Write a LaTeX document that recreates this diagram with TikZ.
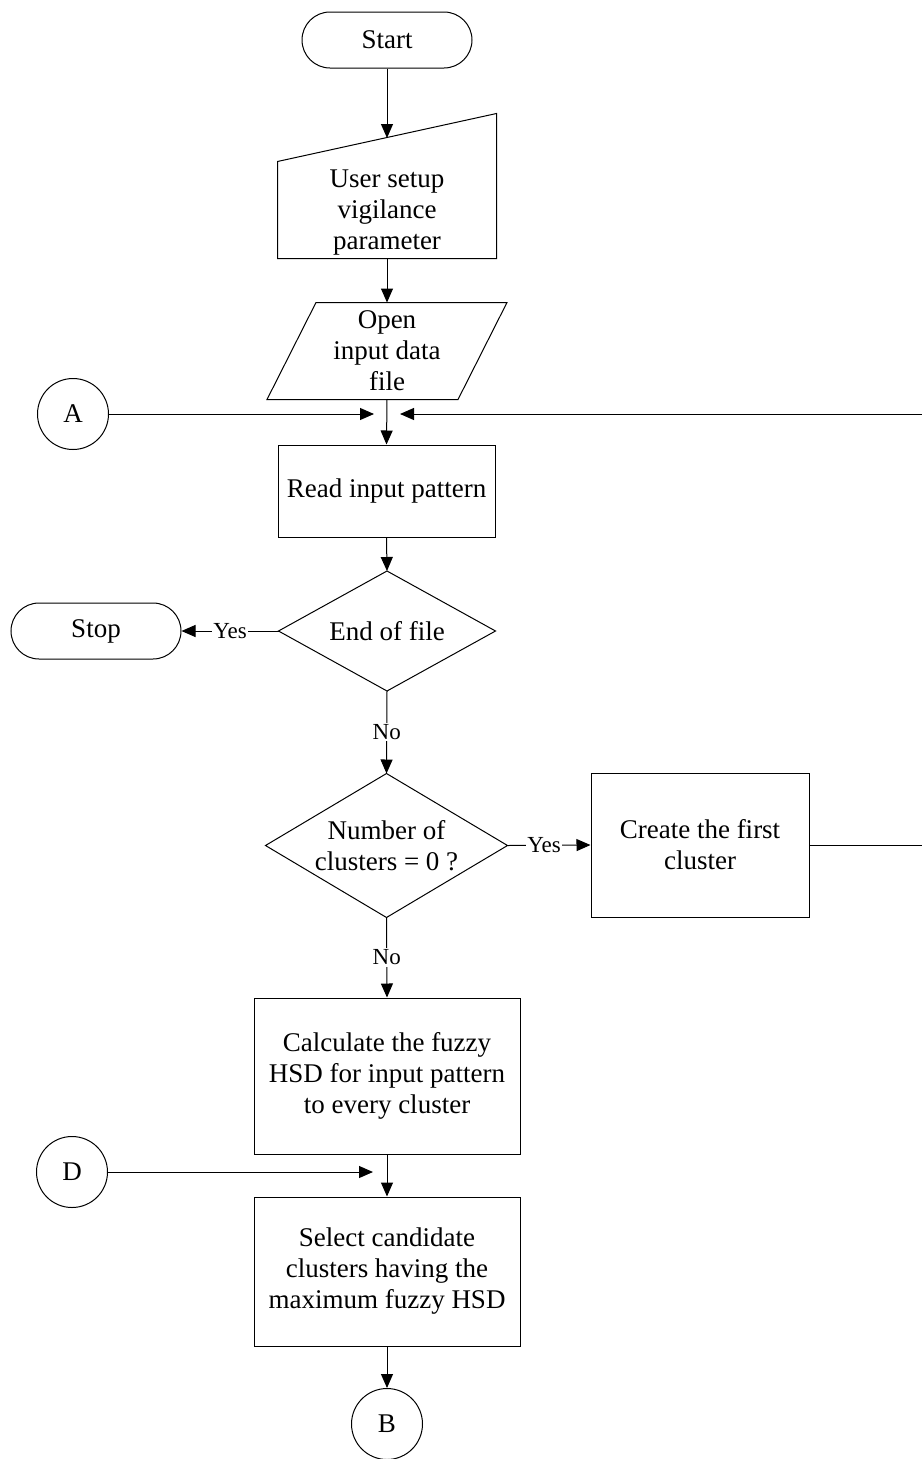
\documentclass[tikz,border=0pt]{standalone}
\usepackage{fontspec}
\setmainfont{Liberation Serif}
\usetikzlibrary{arrows.meta,calc}
\begin{document}
\begin{tikzpicture}[x=1pt,y=-1pt,
  line width=1pt,
  every node/.style={font=\fontsize{27}{31}\selectfont},
  arr/.style={-{Triangle[length=14pt,width=12pt]}},
  proc/.style={draw,rectangle,align=center,inner sep=0pt},
  term/.style={draw,rectangle,rounded corners=28pt,minimum width=170pt,minimum height=56pt,inner sep=0pt},
  conn/.style={draw,circle,minimum size=71pt,inner sep=0pt},
  lbl/.style={fill=white,inner sep=1.5pt,font=\fontsize{23}{26}\selectfont},
  plain/.style={rectangle,inner sep=0pt,align=center}]
\useasboundingbox (0,0) rectangle (921,1459);

% terminals
\node[term] (start) at (387,40) {Start};
\node[term] (stop) at (96,631) {Stop};

% manual input: shape drawn from the node's corners, sloping top edge
\node[plain,minimum width=218pt,minimum height=144pt] (usr) at (387,186) {};
\node[plain] (usrtxt) at (387,213) {User setup\\vigilance\\parameter};
\draw (usr.south west) -- (usr.south east) -- (usr.north east) -- ($(usr.north west)+(0,48)$) -- cycle;
\coordinate (usrtop) at (387,138);

% data input parallelogram
\node[plain,minimum width=239pt,minimum height=96pt] (open) at (387,351) {Open\\input data\\file};
\draw (open.south west) -- ++(191,0) -- (open.north east) -- ++(-191,0) -- cycle;

% processes
\node[proc,minimum width=217pt,minimum height=92pt] (read) at (386.5,491) {Read input pattern};
\node[proc,minimum width=218pt,minimum height=144pt] (create) at (700,845) {Create the first\\cluster};
\node[proc,minimum width=266pt,minimum height=156pt] (calc) at (387,1076) {Calculate the fuzzy\\HSD for input pattern\\to every cluster};
\node[proc,minimum width=266pt,minimum height=149pt] (sel) at (387,1271.5) {Select candidate\\clusters having the\\maximum fuzzy HSD};

% decisions
\node[minimum width=216pt,minimum height=119pt,inner sep=0pt] (eof) at (387,631) {End of file};
\draw (eof.north) -- (eof.east) -- (eof.south) -- (eof.west) -- cycle;
\node[minimum width=241pt,minimum height=143pt,inner sep=0pt,align=center] (nclu) at (386.5,845.5) {Number of\\clusters = 0 ?};
\draw (nclu.north) -- (nclu.east) -- (nclu.south) -- (nclu.west) -- cycle;

% connectors
\node[conn] (A) at (73,414) {A};
\node[conn] (D) at (72,1172) {D};
\node[conn] (B) at (387,1424) {B};

% merge points and loop-back route (the return line runs along the right edge)
\coordinate (ml) at (374,414);
\coordinate (mr) at (400,414);
\coordinate (rt) at (923,414);
\coordinate (rb) at (923,845);
\coordinate (dm) at (373,1172);

% flow
\draw[arr] (start.south) -- (usrtop);
\draw[arr] (usr.south) -- (open.north);
\draw[arr] (open.south) -- (read.north);
\draw[arr] (A.east) -- (ml);
\draw[arr] (create.east) -- (rb) -- (rt) -- (mr);
\draw[arr] (read.south) -- (eof.north);
\draw[arr] (eof.west) -- node[lbl]{Yes} (stop.east);
\draw[arr] (eof.south) -- node[lbl]{No} (nclu.north);
\draw[arr] (nclu.east) -- node[lbl,xshift=-5pt]{Yes} (create.west);
\draw[arr] (nclu.south) -- node[lbl]{No} (calc.north);
\draw[arr] (calc.south) -- (sel.north);
\draw[arr] (D.east) -- (dm);
\draw[arr] (sel.south) -- (B.north);
\end{tikzpicture}
\end{document}
